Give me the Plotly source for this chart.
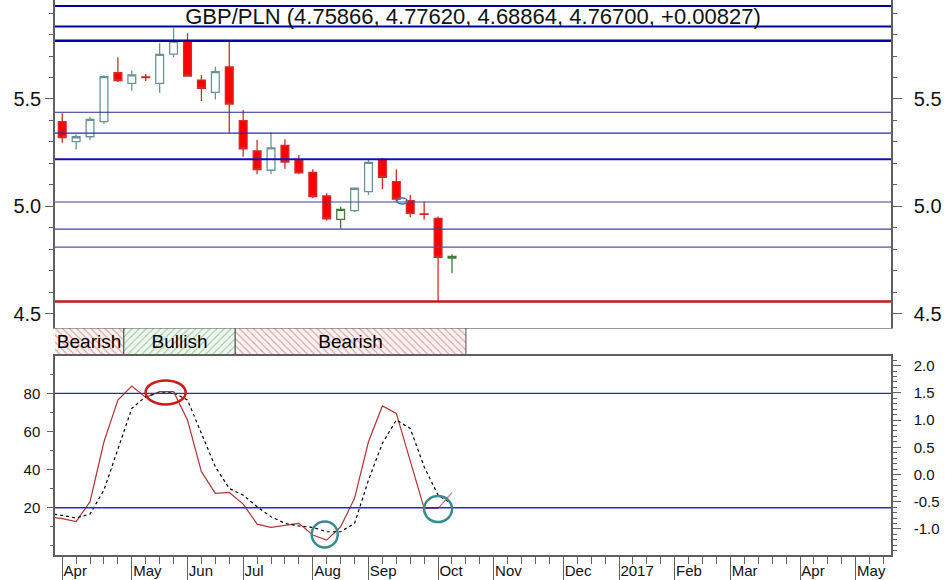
import pandas as pd
import plotly.graph_objects as go
from plotly.subplots import make_subplots

# weekly bars, dated by Friday; the first week only feeds the oscillator (left of the view)
weeks = ["2016-03-25", "2016-04-01", "2016-04-08", "2016-04-15", "2016-04-22", "2016-04-29",
         "2016-05-06", "2016-05-13", "2016-05-20", "2016-05-27", "2016-06-03", "2016-06-10",
         "2016-06-17", "2016-06-24", "2016-07-01", "2016-07-08", "2016-07-15", "2016-07-22",
         "2016-07-29", "2016-08-05", "2016-08-12", "2016-08-19", "2016-08-26", "2016-09-02",
         "2016-09-09", "2016-09-16", "2016-09-23", "2016-09-30", "2016-10-07", "2016-10-14"]
candle_weeks = weeks[1:]

opens = [5.394, 5.301, 5.324, 5.394, 5.622, 5.573, 5.603, 5.573, 5.709, 5.771,
         5.588, 5.531, 5.649, 5.399, 5.258, 5.168, 5.284, 5.216, 5.158, 5.048,
         4.939, 4.980, 5.068, 5.219, 5.115, 5.026, 4.965, 4.944, 4.75866]
highs = [5.433, 5.335, 5.417, 5.612, 5.694, 5.632, 5.616, 5.759, 5.829, 5.806,
         5.612, 5.650, 5.767, 5.449, 5.309, 5.345, 5.312, 5.239, 5.172, 5.061,
         4.998, 5.088, 5.219, 5.225, 5.172, 5.053, 5.021, 4.952, 4.77620]
lows = [5.296, 5.265, 5.309, 5.383, 5.579, 5.538, 5.584, 5.529, 5.695, 5.605,
        5.490, 5.498, 5.343, 5.231, 5.149, 5.149, 5.175, 5.149, 5.037, 4.933,
        4.896, 4.973, 5.053, 5.081, 5.021, 4.949, 4.939, 4.556, 4.68864]
closes = [5.320, 5.324, 5.405, 5.604, 5.585, 5.612, 5.600, 5.708, 5.770, 5.607,
          5.550, 5.627, 5.476, 5.268, 5.171, 5.272, 5.206, 5.156, 5.045, 4.941,
          4.986, 5.084, 5.205, 5.135, 5.033, 4.967, 4.962, 4.762, 4.76700]

title_text = "GBP/PLN (4.75866, 4.77620, 4.68864, 4.76700, +0.00827)"

resistance_levels = [5.933, 5.838, 5.771, 5.438, 5.341, 5.219, 5.020, 4.894, 4.810]
support_level = 4.556

# stochastic %K (solid) and %D (dotted)
stoch_k = [15.3, 14.3, 12.7, 23.2, 54.6, 76.5, 83.8, 77.9, 80.9, 80.9,
           66.0, 38.9, 27.5, 28.0, 21.9, 11.4, 9.7, 10.9, 11.8, 5.7,
           3.0, 10.0, 24.9, 54.6, 73.4, 69.5, 45.0, 19.7, 19.7, 27.9]
stoch_d = [17.0, 16.0, 14.6, 16.7, 29.3, 50.3, 72.1, 78.3, 80.3, 80.3,
           76.5, 59.0, 41.5, 30.1, 26.6, 20.5, 15.3, 11.8, 10.4, 9.7,
           7.4, 7.4, 11.8, 34.5, 53.8, 66.0, 61.6, 41.5, 26.6, 22.0]
osc_levels = [80, 20]

band_labels = ["Bearish", "Bullish", "Bearish"]
band_starts = ["2016-03-28", "2016-05-02", "2016-06-27"]
band_ends = ["2016-05-02", "2016-06-27", "2016-10-21"]

month_ticks = ["2016-04-01", "2016-05-06", "2016-06-03", "2016-07-01", "2016-08-05",
               "2016-09-02", "2016-10-07", "2016-11-04", "2016-12-09", "2017-01-06",
               "2017-02-03", "2017-03-03", "2017-04-07", "2017-05-05"]
month_labels = ["Apr", "May", "Jun", "Jul", "Aug", "Sep", "Oct", "Nov", "Dec", "2017",
                "Feb", "Mar", "Apr", "May"]

price_ticks = [4.5, 5.0, 5.5]
osc_ticks = [20, 40, 60, 80]
right_osc_ticks = [-1.0, -0.5, 0.0, 0.5, 1.0, 1.5, 2.0]

# marked spots: (week, value)
osc_marks = [("2016-05-23", 80.5, "#d01818", 20, 12),
             ("2016-08-11", 6.0, "#3a8c8c", 13, 13),
             ("2016-10-07", 19.3, "#3a8c8c", 14, 13)]
price_marks = [("2016-09-19", 5.025, "#3a7ab0", 5, 3)]

x_range = ["2016-03-28 09:00", "2017-05-22 18:00"]
green_weeks = {"2016-08-19", "2016-10-14"}

fig = make_subplots(rows=3, cols=1, shared_xaxes=True, vertical_spacing=0,
                    specs=[[{"secondary_y": True}], [{}], [{"secondary_y": True}]])

for outline, keep in (("#6a9494", False), ("#3f7a3f", True)):
    idx = [i for i, w in enumerate(candle_weeks) if (w in green_weeks) == keep]
    fig.add_trace(go.Candlestick(
        x=[candle_weeks[i] for i in idx],
        open=[opens[i] for i in idx], high=[highs[i] for i in idx],
        low=[lows[i] for i in idx], close=[closes[i] for i in idx],
        increasing=dict(line=dict(color=outline, width=1.3), fillcolor="white"),
        decreasing=dict(line=dict(color="#d42a2a", width=1.3), fillcolor="#ff0000"),
        whiskerwidth=0, showlegend=False), row=1, col=1)
fig.add_trace(go.Scatter(x=[], y=[], showlegend=False), row=1, col=1, secondary_y=True)

durations = [(pd.Timestamp(e) - pd.Timestamp(s)).total_seconds() * 1000
             for s, e in zip(band_starts, band_ends)]
fig.add_trace(go.Bar(
    x=durations, base=band_starts, y=[0] * len(band_labels), orientation="h", width=1,
    marker=dict(color="white", line=dict(color="#505050", width=1),
                pattern=dict(shape=["\\", "/", "\\"],
                             fgcolor=["#a04848", "#4a8a4a", "#a04848"],
                             bgcolor=["#fcf0f0", "#eff8ef", "#fcf0f0"],
                             size=5, solidity=0.2)),
    text=band_labels, textposition="inside", insidetextanchor="middle",
    constraintext="none", textangle=0, textfont=dict(size=19, color="black"),
    showlegend=False, hoverinfo="skip"), row=2, col=1)

fig.add_trace(go.Scatter(x=weeks[:-1], y=stoch_k[:-1], mode="lines",
                         line=dict(color="#b03636", width=1.2), showlegend=False), row=3, col=1)
fig.add_trace(go.Scatter(x=weeks[-2:], y=stoch_k[-2:], mode="lines",
                         line=dict(color="#e06a8a", width=1.2), showlegend=False), row=3, col=1)
fig.add_trace(go.Scatter(x=weeks, y=stoch_d, mode="lines",
                         line=dict(color="black", width=1.2, dash="dot"), showlegend=False), row=3, col=1)
fig.add_trace(go.Scatter(x=[], y=[], showlegend=False), row=3, col=1, secondary_y=True)

level_widths = [2, 2, 2.5, 1.2, 1.4, 2, 1.2, 1.2, 1.2]
level_colors = ["#0000a0", "#0000a0", "#0000a0", "#2a2a90", "#2a2aa8", "#1010b0",
                "#40409a", "#40409a", "#5050a8"]
for lv, w, c in zip(resistance_levels, level_widths, level_colors):
    fig.add_shape(type="line", xref="x domain", yref="y", x0=0, x1=1, y0=lv, y1=lv,
                  line=dict(color=c, width=w))
fig.add_shape(type="line", xref="x domain", yref="y", x0=0, x1=1,
              y0=support_level, y1=support_level, line=dict(color="#c01818", width=2.5))
for lv in osc_levels:
    fig.add_shape(type="line", xref="x3 domain", yref="y4", x0=0, x1=1, y0=lv, y1=lv,
                  line=dict(color="#2c2cc0", width=1.3))

for marks, xr, yr, lw in ((osc_marks, "x3", "y4", 2.5), (price_marks, "x", "y", 1.5)):
    for wk, val, col, rx, ry in marks:
        fig.add_shape(type="circle", xref=xr, yref=yr, xsizemode="pixel", ysizemode="pixel",
                      xanchor=wk, yanchor=val, x0=-rx, x1=rx, y0=-ry, y1=ry,
                      line=dict(color=col, width=lw))

axis_col = "#606060"
fig.update_xaxes(type="date", range=x_range, domain=[0, 1], showgrid=False, zeroline=False,
                 rangeslider_visible=False, automargin=False)
fig.update_yaxes(automargin=False)
fig.update_layout(
    xaxis=dict(showline=True, linecolor="#9a9a9a", linewidth=1, ticks="", showticklabels=False),
    xaxis2=dict(showline=False, ticks="", showticklabels=False),
    xaxis3=dict(showline=True, mirror=True, linecolor=axis_col, linewidth=1.5,
                tickmode="array", tickvals=month_ticks, ticktext=month_labels,
                ticks="outside", ticklen=25, tickwidth=1.2, tickcolor=axis_col,
                ticklabelposition="outside right", ticklabelstandoff=1,
                tickfont=dict(size=15, color="#111"),
                minor=dict(ticks="outside", ticklen=7, tickcolor=axis_col, tickwidth=1.2,
                           tickmode="linear", tick0="2016-04-01", dtick=7 * 86400000)),
    yaxis=dict(range=[4.433, 5.961], showgrid=False, zeroline=False, showline=True,
               linecolor=axis_col, linewidth=1.5, ticks="outside", ticklen=8, tickcolor=axis_col,
               tickvals=price_ticks, ticktext=[f"{v:.1f}" for v in price_ticks],
               tickfont=dict(size=20, color="#111"),
               minor=dict(ticks="outside", ticklen=4, tickcolor=axis_col, dtick=0.1, tick0=4.5)),
    yaxis2=dict(range=[4.433, 5.961], showgrid=False, zeroline=False, showline=True,
                linecolor=axis_col, linewidth=1.5, ticks="outside", ticklen=9, tickcolor=axis_col,
                tickvals=price_ticks, ticktext=[f"{v:.1f}" for v in price_ticks],
                tickfont=dict(size=20, color="#111"), ticklabelstandoff=8,
                minor=dict(ticks="outside", ticklen=4, tickcolor=axis_col, dtick=0.1, tick0=4.5)),
    yaxis3=dict(range=[-0.5, 0.5], visible=False),
    yaxis4=dict(range=[-4.8, 99.6], showgrid=False, zeroline=False, showline=True,
                linecolor=axis_col, linewidth=1.5, ticks="outside", ticklen=6, tickcolor=axis_col,
                tickvals=osc_ticks, tickfont=dict(size=15, color="#111"), ticklabelstandoff=4,
                minor=dict(ticks="outside", ticklen=3, tickcolor=axis_col, dtick=10, tick0=0)),
    yaxis5=dict(range=[-1.478, 2.178], showgrid=False, zeroline=False, showline=True,
                linecolor=axis_col, linewidth=1.5, ticks="outside", ticklen=8, tickcolor=axis_col,
                tickvals=right_osc_ticks, ticktext=[f"{v:.1f}" for v in right_osc_ticks],
                tickfont=dict(size=15, color="#111"), ticklabelstandoff=10,
                minor=dict(ticks="outside", ticklen=4, tickcolor=axis_col, dtick=0.1, tick0=0)),
)

# panel heights (price / signal strip / oscillator)
fig.update_yaxes(domain=[0.409, 1.0], row=1, col=1)
fig.update_yaxes(domain=[0.3586, 0.409], row=2, col=1)
fig.update_yaxes(domain=[0.0, 0.3586], row=3, col=1)

fig.update_layout(
    title=dict(text=title_text, x=0.5, xref="paper", xanchor="center",
               y=1 - 16 / 580, yref="container", yanchor="middle",
               font=dict(size=22, color="#111")),
    width=945, height=580, margin=dict(l=55, r=54, t=0, b=25),
    plot_bgcolor="white", paper_bgcolor="white",
    font=dict(family="Liberation Sans, Arial, sans-serif", color="#111"),
    showlegend=False, boxgap=0.2,
)

# the page's default body margin would push the fixed-size figure 8px in
fig.write_html("out.html", config={"displayModeBar": False},
               post_script="document.body.style.margin = '0';")
